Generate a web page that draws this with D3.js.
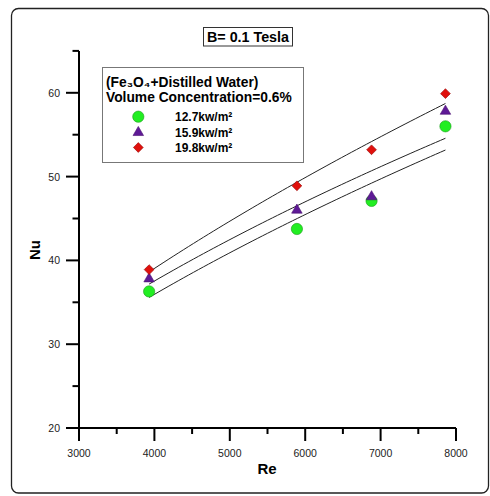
<!DOCTYPE html>
<html><head><meta charset="utf-8">
<script src="https://cdn.jsdelivr.net/npm/d3@7"></script>
<style>body{margin:0;background:#fff;} text{font-family:"Liberation Sans",Arial,sans-serif;}</style>
</head><body>
<svg id="c" width="490" height="496"></svg>
<script>
const reValues = [3930, 5890, 6880, 7860];
const nu127 = [36.3, 43.75, 47.1, 56.0];
const nu159 = [37.8, 46.0, 47.6, 57.8];
const nu198 = [38.9, 48.9, 53.2, 59.9];
const seriesNames = ["12.7kw/m²", "15.9kw/m²", "19.8kw/m²"];
const xTicks = [3000, 4000, 5000, 6000, 7000, 8000];
const yTicks = [20, 30, 40, 50, 60];

const svg = d3.select("#c");
// frame
svg.append("rect").attr("x",11.5).attr("y",8.5).attr("width",477).attr("height",484.5)
  .attr("rx",7).attr("fill","none").attr("stroke","#222").attr("stroke-width",1.3);

const x = d3.scaleLinear().domain([3000,8000]).range([79,456]);
const y = d3.scaleLinear().domain([20,60]).range([428,92.8]);

const g = svg.append("g");
// x axis
const xa = g.append("g").attr("transform","translate(0,428)");
xa.append("line").attr("x1",x(3000)).attr("x2",x(8000)).attr("stroke","#000").attr("stroke-width",2);
d3.range(3500,8000,1000).forEach(v=>xa.append("line").attr("x1",x(v)).attr("x2",x(v)).attr("y1",0).attr("y2",6).attr("stroke","#000").attr("stroke-width",2));
xTicks.forEach(v=>{
  xa.append("line").attr("x1",x(v)).attr("x2",x(v)).attr("y1",0).attr("y2",13).attr("stroke","#000").attr("stroke-width",2);
  xa.append("text").attr("x",x(v)).attr("y",29).attr("text-anchor","middle").attr("font-size",10.5).attr("fill","#222").text(v);
});
// y axis
const ya = g.append("g").attr("transform","translate(79,0)");
ya.append("line").attr("y1",y(20)).attr("y2",y(65)).attr("stroke","#000").attr("stroke-width",2);
[25,35,45,55,65].forEach(v=>ya.append("line").attr("y1",y(v)).attr("y2",y(v)).attr("x1",0).attr("x2",-6.5).attr("stroke","#000").attr("stroke-width",2));
yTicks.forEach(v=>{
  ya.append("line").attr("y1",y(v)).attr("y2",y(v)).attr("x1",0).attr("x2",-13).attr("stroke","#000").attr("stroke-width",2);
  ya.append("text").attr("x",-19).attr("y",y(v)+4).attr("text-anchor","end").attr("font-size",10.5).attr("fill","#222").text(v);
});
// axis titles
svg.append("text").attr("x",267).attr("y",474).attr("text-anchor","middle").attr("font-size",15).attr("font-weight","bold").text("Re");
svg.append("text").attr("transform","translate(40,250) rotate(-90)").attr("text-anchor","middle").attr("font-size",15).attr("font-weight","bold").text("Nu");

// power-law fits
function fit(xs, ys){
  const lx = xs.map(Math.log), ly = ys.map(Math.log);
  const mx = d3.mean(lx), my = d3.mean(ly);
  const b = d3.sum(lx.map((v,i)=>(v-mx)*(ly[i]-my)))/d3.sum(lx.map(v=>(v-mx)*(v-mx)));
  const a = my - b*mx;
  return r => Math.exp(a + b*Math.log(r));
}
const series = [
  {vals:nu127, sym:d3.symbolCircle, size:100, rot:0, fill:"#22ee22", stroke:"#1a9a1a"},
  {vals:nu159, sym:d3.symbolTriangle, size:48, rot:0, fill:"#5e1a96", stroke:"#4a0e70"},
  {vals:nu198, sym:d3.symbolSquare, size:48, rot:45, fill:"#e0100c", stroke:"#9a0a08"}
];
const line = d3.line().x(d=>x(d[0])).y(d=>y(d[1]));
series.forEach(s=>{
  const f = fit(reValues, s.vals);
  const pts = d3.range(0,61).map(i=>{const r = reValues[0] + (reValues[3]-reValues[0])*i/60; return [r,f(r)];});
  svg.append("path").attr("d",line(pts)).attr("fill","none").attr("stroke","#222").attr("stroke-width",1);
});
series.forEach(s=>{
  s.vals.forEach((v,i)=>{
    svg.append("path").attr("d",d3.symbol(s.sym,s.size)()).attr("transform",`translate(${x(reValues[i])},${y(v)}) rotate(${s.rot})`)
      .attr("fill",s.fill).attr("stroke",s.stroke).attr("stroke-width",0.6);
  });
});

// title box
svg.append("rect").attr("x",203.5).attr("y",27.5).attr("width",89).attr("height",18.5).attr("fill","#fff").attr("stroke","#333").attr("stroke-width",1);
svg.append("text").attr("x",248).attr("y",41.8).attr("text-anchor","middle").attr("font-size",14.3).attr("font-weight","bold").text("B= 0.1 Tesla");

// legend
svg.append("rect").attr("x",102.5).attr("y",67.5).attr("width",201).attr("height",95).attr("fill","#fff").attr("stroke","#777").attr("stroke-width",1);
svg.append("text").attr("x",106).attr("y",87).attr("font-size",13.8).attr("font-weight","bold").text("(Fe₃O₄+Distilled Water)");
svg.append("text").attr("x",106).attr("y",102).attr("font-size",13.8).attr("font-weight","bold").text("Volume Concentration=0.6%");
const ly = [116.7, 132.5, 147.5];
series.forEach((s,i)=>{
  svg.append("path").attr("d",d3.symbol(s.sym,s.size)()).attr("transform",`translate(138.3,${ly[i]}) rotate(${s.rot})`)
    .attr("fill",s.fill).attr("stroke",s.stroke).attr("stroke-width",0.6);
  svg.append("text").attr("x",175).attr("y",ly[i]+4.3).attr("font-size",12).attr("font-weight","bold").text(seriesNames[i]);
});
</script>
</body></html>
